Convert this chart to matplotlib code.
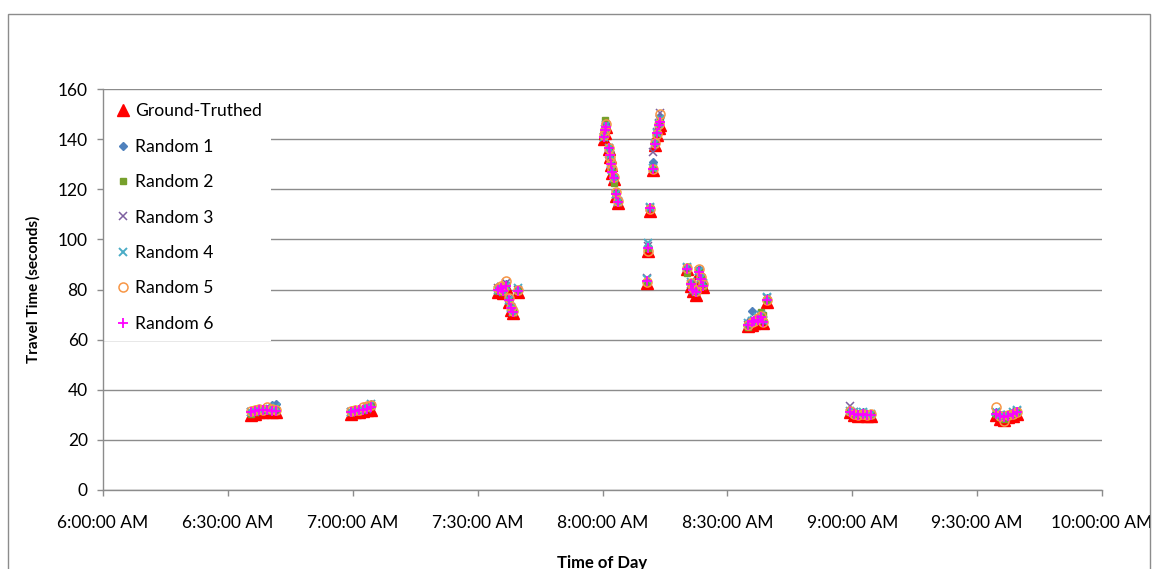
import matplotlib
matplotlib.use("Agg")
import matplotlib.pyplot as plt
from matplotlib.patches import Rectangle

plt.rcParams['font.family'] = ['Lato', 'DejaVu Sans']

# minutes after 6:00 AM
times = [35.5, 36.5, 37.5, 38.5, 39.5, 40.5, 41.5,
         59.5, 60.5, 61.5, 62.5, 63.5, 64.5,
         95.0, 95.6, 96.2, 96.8, 97.6, 98.0, 98.4, 99.6,
         120.3, 120.6, 120.9, 121.5, 121.8, 122.1, 122.4, 122.7, 123.2, 123.7,
         130.8, 131.0, 131.4, 132.2, 132.7, 133.1, 133.5, 133.9,
         140.4, 141.2, 141.8, 142.4, 143.3, 143.7, 144.2,
         155.0, 155.8, 156.5, 157.3, 158.0, 158.6, 159.6,
         179.5, 180.5, 181.5, 182.5, 183.5, 184.5,
         214.5, 215.5, 216.5, 217.5, 218.5, 219.5]

ground_truthed = [30, 30.5, 31, 31, 31.5, 31, 31,
                  30.5, 31, 31, 31.5, 32, 32,
                  79, 80, 78.5, 81, 75, 72, 70.5, 79,
                  140, 142.5, 145, 136, 133, 129.5, 126.5, 124, 117.5, 114.5,
                  82.5, 95.5, 111.5, 127.5, 137.5, 141.5, 144.5, 145.5,
                  88, 81.5, 79.5, 78, 86.5, 83.5, 81,
                  65.5, 66, 66.5, 67, 68, 66.5, 75,
                  31, 30, 29.5, 30, 29.5, 29.5,
                  30, 28.5, 28, 29, 29.5, 30.5]

random1 = [31, 31.5, 32, 32, 32.5, 34, 34.5,
           31, 31.5, 32, 32.5, 33, 34.5,
           80, 81, 79.5, 82, 76, 73, 71, 80,
           141, 143.5, 145.5, 137, 134, 130, 127, 125, 118, 115,
           83.5, 97, 113, 131, 139, 143, 147, 149,
           89, 82.5, 80.5, 79, 88, 85, 82,
           67, 71.5, 68, 68.5, 69, 68, 76.5,
           31.5, 31, 30.5, 31, 30.5, 30.5,
           31, 30, 29, 30, 31, 31.5]

random2 = [30.5, 31, 31.5, 32, 32, 31.5, 32,
           31, 31.5, 31.5, 32, 33, 33.5,
           79.5, 80.5, 79, 81.5, 75.5, 72.5, 71, 79.5,
           141.5, 147.5, 144, 137, 133.5, 130, 127, 122.5, 118.5, 115,
           83, 96.5, 112.5, 128.5, 139, 142.5, 146, 147.5,
           86.5, 82, 80, 79, 87, 84, 81.5,
           65, 66.5, 67, 68, 71, 70, 76,
           31, 30.5, 30, 30.5, 30, 30,
           30.5, 29, 28.5, 29.5, 30.5, 31]

random3 = [31, 31, 31.5, 32, 32, 32, 31.5,
           31, 31.5, 32, 32, 32.5, 33.5,
           80.5, 81, 79, 82.5, 76.5, 73, 71.5, 80,
           141, 143, 145, 134, 133.5, 130.5, 127.5, 124.5, 118, 115.5,
           84.5, 97.5, 112.5, 135, 138, 143, 146.5, 150.5,
           88.5, 82, 80, 79, 87.5, 84.5, 82,
           66, 67, 67.5, 68, 69.5, 67.5, 76.5,
           33.5, 31, 30.5, 30.5, 30, 30,
           31, 29.5, 29, 30, 30.5, 31.5]

random4 = [31, 31.5, 32, 32.5, 32.5, 32, 33,
           31, 31.5, 32, 32.5, 33, 34.5,
           80, 81, 79.5, 81.5, 76, 72.5, 71, 80.5,
           141, 144, 145.5, 136.5, 133.5, 130, 127.5, 124.5, 118, 115,
           84, 98.5, 113, 128.5, 138.5, 142.5, 146, 148,
           89, 83, 81, 79.5, 87.5, 84.5, 82.5,
           66.5, 67.5, 68, 69, 70, 68, 77,
           31.5, 31, 30.5, 31, 30.5, 30.5,
           31, 30, 29.5, 30, 31, 32]

random5 = [31.5, 32, 32.5, 32, 33, 32.5, 32,
           31.5, 32, 32, 33, 33.5, 34,
           80.5, 81.5, 80, 83.5, 76.5, 73, 71.5, 80,
           141.5, 143.5, 146, 136.5, 133, 130.5, 128, 125, 119, 115.5,
           83, 95.5, 112, 128, 138.5, 142, 146, 150,
           88.5, 82.5, 80.5, 79.5, 88, 85, 82,
           66, 67, 67.5, 68.5, 69.5, 67, 76,
           31.5, 30.5, 30, 30.5, 30, 30.5,
           33, 29.5, 27.5, 30, 30.5, 31]

random6 = [31, 31.5, 32, 32, 32, 31.5, 31.5,
           31, 31.5, 32, 32, 32.5, 33,
           80, 80.5, 79.5, 81.5, 76, 72.5, 71, 79.5,
           141, 143.5, 145, 136.5, 133.5, 130, 127, 124.5, 118, 115,
           83.5, 96.5, 112.5, 128, 138, 142.5, 145.5, 147,
           88, 82, 80, 79, 87, 84, 81.5,
           66, 67, 67.5, 68, 69, 67, 76,
           31, 30.5, 30, 30.5, 30, 30,
           30.5, 29.5, 29, 29.5, 30.5, 31]

x_ticks = [0, 30, 60, 90, 120, 150, 180, 210, 240]
x_tick_labels = ["6:00:00 AM", "6:30:00 AM", "7:00:00 AM", "7:30:00 AM",
                 "8:00:00 AM", "8:30:00 AM", "9:00:00 AM", "9:30:00 AM",
                 "10:00:00 AM"]
y_ticks = [0, 20, 40, 60, 80, 100, 120, 140, 160]

fig = plt.figure(figsize=(11.53, 5.69), dpi=100)
fig.patches.append(Rectangle((8/1153, -0.01), 1142/1153, 1 - 14/569 + 0.01,
                             transform=fig.transFigure, fill=False,
                             edgecolor='#8c8c8c', linewidth=1))
ax = fig.add_axes([103/1153, 1 - 490/569, 999/1153, 401/569])

series = [
    ("Ground-Truthed", ground_truthed, dict(marker='^', color='#ff0000', ms=8.5, mec='#ff0000')),
    ("Random 1", random1, dict(marker='D', color='#4f81bd', ms=4.2, mec='#4f81bd')),
    ("Random 2", random2, dict(marker='s', color='#77a02c', ms=4.6, mec='#77a02c')),
    ("Random 3", random3, dict(marker='x', color='#7d60a0', ms=5.5, mew=1.1)),
    ("Random 4", random4, dict(marker='x', color='#4bacc6', ms=5.5, mew=1.4)),
    ("Random 5", random5, dict(marker='o', color='#f79646', ms=6.5, mfc='none', mew=1.1)),
    ("Random 6", random6, dict(marker='+', color='#ff00ff', ms=7.5, mew=1.3)),
]
for name, vals, st in series:
    ax.plot(times, vals, linestyle='none', label=name, zorder=3, **st)

ax.set_xlim(0, 240)
ax.set_ylim(0, 160)
ax.set_xticks(x_ticks)
ax.set_xticklabels(x_tick_labels)
ax.set_yticks(y_ticks)
ax.tick_params(axis='both', labelsize=12.5, colors='#000000', length=4,
               width=1, color='#8c8c8c')
ax.tick_params(axis='x', pad=14)
ax.tick_params(axis='y', pad=7)
ax.grid(axis='y', color='#8c8c8c', linewidth=1)
ax.set_axisbelow(True)
for s in ['top', 'right']:
    ax.spines[s].set_visible(False)
for s in ['left', 'bottom']:
    ax.spines[s].set_color('#8c8c8c')
    ax.spines[s].set_linewidth(1)
    ax.spines[s].set_zorder(5)

ax.set_xlabel("Time of Day", fontsize=12, fontweight='bold', labelpad=17)
ax.set_ylabel("Travel Time (seconds)", fontsize=11, fontweight='bold', labelpad=12)

leg = ax.legend(loc='upper left', bbox_to_anchor=(0.0015, 0.988), fontsize=12.6,
                frameon=True, fancybox=False, framealpha=1, edgecolor='white',
                labelspacing=1.11, handletextpad=0.2, handlelength=1.0,
                borderpad=0.54, borderaxespad=0.0)
leg.get_frame().set_linewidth(0)
leg.set_zorder(4)

fig.savefig("out.png", dpi=100)
